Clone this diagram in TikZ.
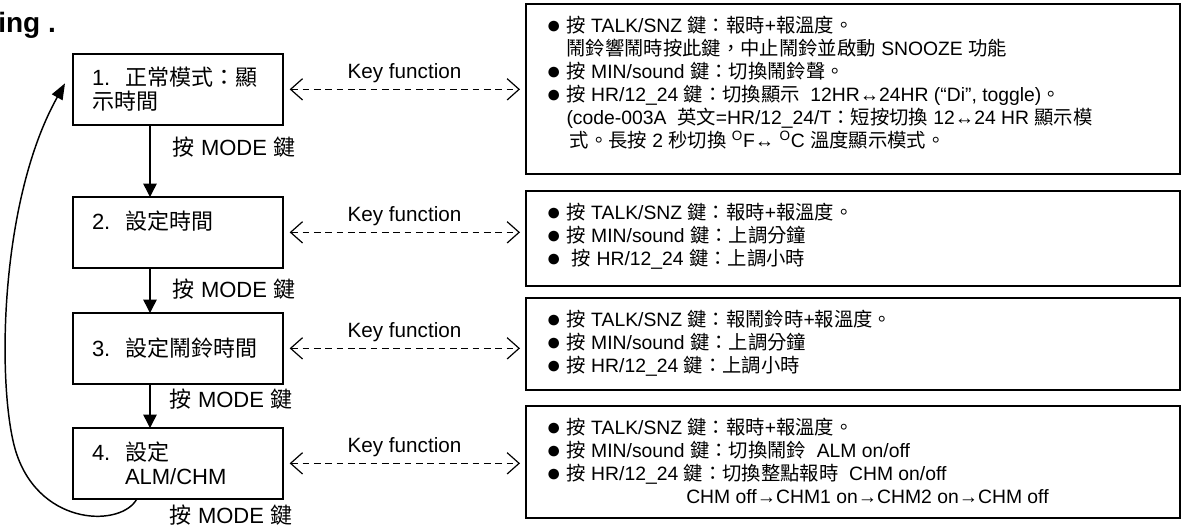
\documentclass[tikz,border=0pt]{standalone}
\usepackage{fontspec}
\setmainfont{Liberation Sans}
\newfontfamily\cjk{Noto Sans CJK TC}
\newcommand{\zh}[1]{{\cjk #1}}
\newcommand{\notefont}{\fontsize{14.5}{17.2}\selectfont}
\newcommand{\dotb}{\raisebox{-0.6pt}{\fontsize{18.5}{18.5}\selectfont ●}\ }
\usetikzlibrary{arrows.meta}

\begin{document}
\begin{tikzpicture}[x=0.75pt,y=-0.75pt,
    mode/.style={draw,line width=1.5pt,outer sep=0pt,anchor=north west,
      minimum width=157.5pt,minimum height=53pt,text width=129pt,
      inner xsep=14.25pt,align=left,font=\fontsize{16.5}{18}\selectfont},
    panel/.style={draw,line width=1.8pt,outer sep=0pt,anchor=north west,
      minimum width=490.5pt},
    note/.style={anchor=north west,inner sep=0pt,align=left,font=\notefont},
    press/.style={font=\fontsize{16.5}{18}\selectfont},
    next/.style={line width=1.1pt,-{Triangle[length=10pt,width=10pt]}},
    loopback/.style={line width=1.1pt,-{Triangle[length=12pt,width=9pt]}},
    keyfn/.style={line width=0.9pt,dash pattern=on 5pt off 3.5pt,
      {Straight Barb[length=9pt,width=16pt]}-{Straight Barb[length=9pt,width=16pt]},
      shorten <=5pt,shorten >=4.5pt}]
    \useasboundingbox (0,0) rectangle (1181,529);
    \node[anchor=base west,inner sep=0pt,font=\bfseries\fontsize{21}{24}\selectfont] (title) at (-2,32) {ing .};

    \node[mode] (b1) at (73,54) {1.\ \ \zh{正常模式：顯}\\\zh{示時間}};
    \node[mode] (b2) at (73,197) {2.\ \ \zh{設定時間}\\\mbox{}};
    \node[mode] (b3) at (73,313) {3.\ \ \zh{設定鬧鈴時間}};
    \node[mode] (b4) at (73,428) {4.\ \ \zh{設定}\\\phantom{4.\ \ }ALM/CHM};

    \coordinate (spine) at (150,0);
    \coordinate (back) at (137,0);
    \draw[next] (b1.south -| spine) -- (b2.north -| spine);
    \draw[next] (b2.south -| spine) -- (b3.north -| spine);
    \draw[next] (b3.south -| spine) -- (b4.north -| spine);
    \draw[loopback] (b4.south -| back) .. controls (122,527) and (42,527) .. (17,455)
      .. controls (-3,398) and (-3,205) .. ([xshift=-6pt,yshift=4.5pt]b1.west);

    \node[press] (m1) at (234,147) {\zh{按} MODE \zh{鍵}};
    \node[press] (m2) at (234,289) {\zh{按} MODE \zh{鍵}};
    \node[press] (m3) at (231,399) {\zh{按} MODE \zh{鍵}};
    \node[press] (m4) at (231,515) {\zh{按} MODE \zh{鍵}};

    \node[panel,minimum height=127.5pt] (r1) at (526,4) {};
    \node[panel,minimum height=71.25pt] (r2) at (526,191) {};
    \node[panel,minimum height=69pt] (r3) at (526,298) {};
    \node[panel,minimum height=84pt] (r4) at (526,406) {};

    \node[note] (t1) at ([xshift=15pt,yshift=-9pt]r1.north west) {%
      \dotb\zh{按} TALK/SNZ \zh{鍵：報時}+\zh{報溫度。}\\
      \phantom{\dotb}\zh{鬧鈴響鬧時按此鍵，中止鬧鈴並啟動} SNOOZE \zh{功能}\\
      \dotb\zh{按} MIN/sound \zh{鍵：切換鬧鈴聲。}\\
      \dotb\zh{按} HR/12\_24 \zh{鍵：切換顯示}\ \ 12HR↔24HR (“Di”, toggle)\zh{。}\\
      \phantom{\dotb}(code-003A\ \ \zh{英文}=HR/12\_24/T\zh{：短按切換} 12↔24 HR \zh{顯示模}\\
      \phantom{\dotb}\,\zh{式。長按} 2 \zh{秒切換} \textsuperscript{O}F↔ \textsuperscript{O}C \zh{溫度顯示模式。}};
    \node[note] (t2) at ([xshift=15pt,yshift=-9pt]r2.north west) {%
      \dotb\zh{按} TALK/SNZ \zh{鍵：報時}+\zh{報溫度。}\\
      \dotb\zh{按} MIN/sound \zh{鍵：上調分鐘}\\
      \dotb\ \zh{按} HR/12\_24 \zh{鍵：上調小時}};
    \node[note] (t3) at ([xshift=15pt,yshift=-9pt]r3.north west) {%
      \dotb\zh{按} TALK/SNZ \zh{鍵：報鬧鈴時}+\zh{報溫度。}\\
      \dotb\zh{按} MIN/sound \zh{鍵：上調分鐘}\\
      \dotb\zh{按} HR/12\_24 \zh{鍵：上調小時}};
    \node[note] (t4) at ([xshift=15pt,yshift=-9pt]r4.north west) {%
      \dotb\zh{按} TALK/SNZ \zh{鍵：報時}+\zh{報溫度。}\\
      \dotb\zh{按} MIN/sound \zh{鍵：切換鬧鈴}\ \ ALM on/off\\
      \dotb\zh{按} HR/12\_24 \zh{鍵：切換整點報時}\ \ CHM on/off\\
      \hspace*{105pt}CHM off→CHM1 on→CHM2 on→CHM off};

    \draw[keyfn] (b1.east) -- (b1.east -| r1.west) node[midway,above=1pt,font=\fontsize{15.5}{16}\selectfont] (k1) {Key function};
    \draw[keyfn] (b2.east) -- (b2.east -| r2.west) node[midway,above=1pt,font=\fontsize{15.5}{16}\selectfont] (k2) {Key function};
    \draw[keyfn] (b3.east) -- (b3.east -| r3.west) node[midway,above=1pt,font=\fontsize{15.5}{16}\selectfont] (k3) {Key function};
    \draw[keyfn] (b4.east) -- (b4.east -| r4.west) node[midway,above=1pt,font=\fontsize{15.5}{16}\selectfont] (k4) {Key function};
\end{tikzpicture}
\end{document}
